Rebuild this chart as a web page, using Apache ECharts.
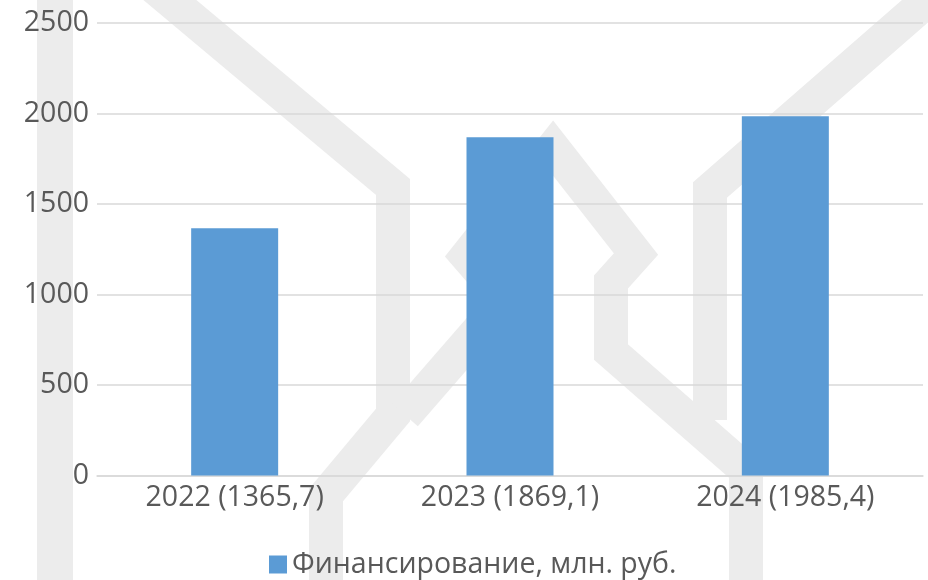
<!DOCTYPE html>
<html>
<head>
<meta charset="utf-8">
<script src="https://cdn.jsdelivr.net/npm/echarts@6/dist/echarts.min.js"></script>
<style>
html,body{margin:0;padding:0;background:#fff;}
#c{width:928px;height:580px;}
</style>
</head>
<body>
<div id="c"></div>
<script>
var categories = ['2022 (1365,7)', '2023 (1869,1)', '2024 (1985,4)'];
var values = [1365.7, 1869.1, 1985.4];
var seriesName = 'Финансирование, млн. руб.';
var yMin = 0, yMax = 2500, yStep = 500;

var wm = '#ececec';
function stroke(pts, w) {
  return { type: 'polyline', z: -10, silent: true,
    shape: { points: pts },
    style: { stroke: wm, lineWidth: w || 34, fill: null, lineJoin: 'miter', lineCap: 'butt' } };
}

var FONT = '"Open Sans", sans-serif';
var chart = echarts.init(document.getElementById('c'), null, { renderer: 'canvas' });
chart.setOption({
  backgroundColor: '#ffffff',
  animation: false,
  graphic: [
    stroke([[55, -10], [55, 600]], 36),
    stroke([[146, -20], [393, 187], [393, 415], [326, 495], [326, 600]]),
    stroke([[405, 415], [505, 300], [467, 256], [553, 148], [636, 254], [611, 282], [611, 352], [746, 470], [746, 600]]),
    stroke([[945, -15], [710, 190], [710, 420]])
  ],
  textStyle: { fontFamily: FONT },
  grid: { left: 97, right: 5, top: 23, bottom: 104.5, containLabel: false },
  legend: {
    data: [seriesName],
    top: 545, left: 264,
    icon: 'rect', itemWidth: 18, itemHeight: 18, itemGap: 10,
    textStyle: { color: '#595959', fontSize: 28.5, fontFamily: FONT }
  },
  xAxis: {
    type: 'category',
    data: categories,
    axisLine: { show: true, lineStyle: { color: '#d9d9d9', width: 1.5 } },
    axisTick: { show: false },
    axisLabel: { color: '#595959', fontSize: 28.5, margin: 8, fontFamily: FONT }
  },
  yAxis: {
    type: 'value',
    min: yMin, max: yMax, interval: yStep,
    axisLine: { show: false },
    axisTick: { show: false },
    splitLine: { lineStyle: { color: '#d9d9d9', width: 1.5 } },
    axisLabel: { color: '#595959', fontSize: 28.5, margin: 8, fontFamily: FONT,
      formatter: function (v) { return String(v); } }
  },
  series: [{
    name: seriesName,
    type: 'bar',
    data: values,
    barWidth: 87,
    itemStyle: { color: '#5b9bd5' }
  }]
});
</script>
</body>
</html>
